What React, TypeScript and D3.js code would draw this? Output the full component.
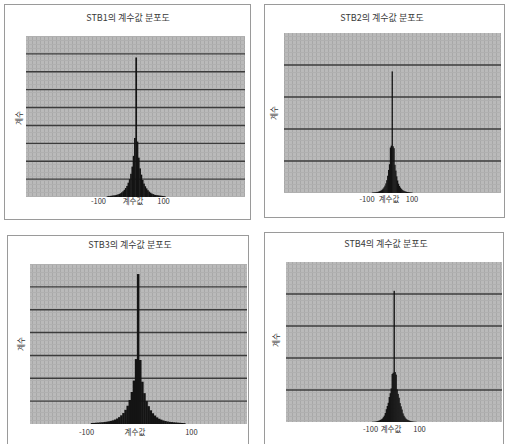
import React from 'react';
import * as d3 from 'd3';

// bin centres of the coefficient histogram (bin width 4)
const bins = [
  -88, -84, -80, -76, -72, -68, -64, -60, -56, -52, -48, -44, -40, -36, -32, -28, -24, -20, -16, -12, -8, -4,
  0,
  4, 8, 12, 16, 20, 24, 28, 32, 36, 40, 44, 48, 52, 56, 60, 64, 68, 72, 76, 80, 84, 88,
];

const stb1Counts = [
  40, 50, 60, 70, 80, 90, 100, 120, 140, 170, 210, 260, 320, 400, 500, 620, 800, 1000, 1300, 1700, 2300, 3300,
  7800,
  3100, 2200, 1600, 1250, 950, 750, 600, 480, 380, 300, 240, 190, 160, 130, 110, 100, 90, 80, 70, 60, 50, 40,
];

const stb2Counts = [
  14, 16, 19, 22, 26, 31, 37, 45, 55, 68, 85, 110, 140, 180, 230, 300, 400, 540, 720, 900, 1420, 1480,
  3800,
  1460, 1400, 880, 700, 520, 390, 290, 220, 170, 135, 105, 82, 66, 53, 44, 36, 30, 25, 21, 18, 15, 13,
];

const stb3Counts = [
  44, 48, 55, 62, 70, 78, 88, 100, 115, 135, 160, 195, 240, 300, 380, 480, 620, 800, 1050, 1400, 1900, 2840,
  6560,
  2800, 1850, 1350, 1000, 780, 600, 470, 370, 290, 230, 190, 155, 130, 110, 95, 84, 74, 66, 58, 50, 44, 38,
];

const stb4Counts = [
  6, 8, 10, 14, 20, 28, 38, 50, 65, 85, 110, 150, 200, 280, 400, 500, 600, 780, 900, 1050, 1500, 1540,
  4100,
  1560, 1480, 1020, 880, 760, 590, 490, 390, 270, 195, 145, 105, 80, 62, 48, 36, 27, 19, 14, 10, 8, 6, 5,
];

const titles = ['STB1의 계수값 분포도', 'STB2의 계수값 분포도', 'STB3의 계수값 분포도', 'STB4의 계수값 분포도'];
const xTicks = [-100, 100];
const xTitle = '계수값';
const yTitle = '계수';
const yMaxes = [9000, 5000, 7000, 5000];
const xDomains: [number, number][] = [[-338, 335], [-480, 484], [-206, 208], [-441, 441]];

const series = [stb1Counts, stb2Counts, stb3Counts, stb4Counts];

const layouts = [
  { box: [4.5, 4.5, 246, 215], plot: [26, 36, 245, 197], title: [128, 21], ylab: [19, 118], xlab: 204, tickDx: -5 },
  { box: [264.5, 4.5, 240, 213], plot: [284, 33, 501, 193], title: [382, 21], ylab: [274, 113], xlab: 202, tickDx: -2.5 },
  { box: [7.5, 235.5, 241, 210], plot: [30, 264, 247, 424], title: [130, 248], ylab: [21, 344], xlab: 435, tickDx: 1 },
  { box: [264.5, 232.5, 239, 214], plot: [286, 262, 502, 422], title: [386, 247], ylab: [276, 340], xlab: 432, tickDx: 1 },
];

const font = '"Noto Sans CJK KR", "Noto Sans", sans-serif';

function Panel({ idx }: { idx: number }) {
  const L = layouts[idx];
  const [px0, py0, px1, py1] = L.plot;
  const counts = series[idx];
  const x = d3.scaleLinear().domain(xDomains[idx]).range([px0, px1]);
  const y = d3.scaleLinear().domain([0, yMaxes[idx]]).range([py1, py0]);
  const grid = d3.range(1000, yMaxes[idx], 1000);
  const half = 2;

  return (
    <g>
      <rect x={L.box[0]} y={L.box[1]} width={L.box[2]} height={L.box[3]} fill="none" stroke="#9a9a9a" strokeWidth={1} />
      <text x={L.title[0]} y={L.title[1]} textAnchor="middle" fontSize={9} fill="#3a3a3a" fontFamily={font}>
        {titles[idx]}
      </text>
      <rect x={px0} y={py0} width={px1 - px0} height={py1 - py0} fill="url(#finegrid)" />
      {grid.map(g => (
        <line key={g} x1={px0} x2={px1} y1={y(g)} y2={y(g)} stroke="#3c3c3c" strokeWidth={1.4} />
      ))}
      {bins.map((b, i) => {
        const v = counts[i] || 0;
        const x0 = x(b - half);
        const w = Math.max(1.2, x(b + half) - x0 + 0.4);
        return <rect key={b} x={x0} y={y(v)} width={w} height={py1 - y(v)} fill="#141414" />;
      })}
      {xTicks.map(t => (
        <text key={t} x={x(t) + L.tickDx} y={L.xlab} textAnchor="middle" fontSize={7.5} fill="#333" fontFamily={font}>
          {t}
        </text>
      ))}
      <text x={x(0) - 3} y={L.xlab} textAnchor="middle" fontSize={7.5} fill="#333" fontFamily={font}>
        {xTitle}
      </text>
      <text
        transform={`translate(${L.ylab[0]},${L.ylab[1]}) rotate(-90)`}
        textAnchor="middle"
        dy="0.35em"
        fontSize={7.5}
        fill="#333"
        fontFamily={font}
      >
        {yTitle}
      </text>
    </g>
  );
}

export default function App() {
  return (
    <div style={{ position: 'absolute', left: 0, top: 0 }}>
      <svg width={507} height={444} style={{ display: 'block', background: '#fff' }}>
        <defs>
          <pattern id="finegrid" width={4} height={4} patternUnits="userSpaceOnUse">
            <rect width={4} height={4} fill="#bababa" />
            <rect x={0} y={0} width={1} height={4} fill="#a8a8a8" />
            <rect x={0} y={0} width={4} height={1} fill="#b0b0b0" />
          </pattern>
        </defs>
        {[0, 1, 2, 3].map(i => (
          <Panel key={i} idx={i} />
        ))}
      </svg>
    </div>
  );
}
